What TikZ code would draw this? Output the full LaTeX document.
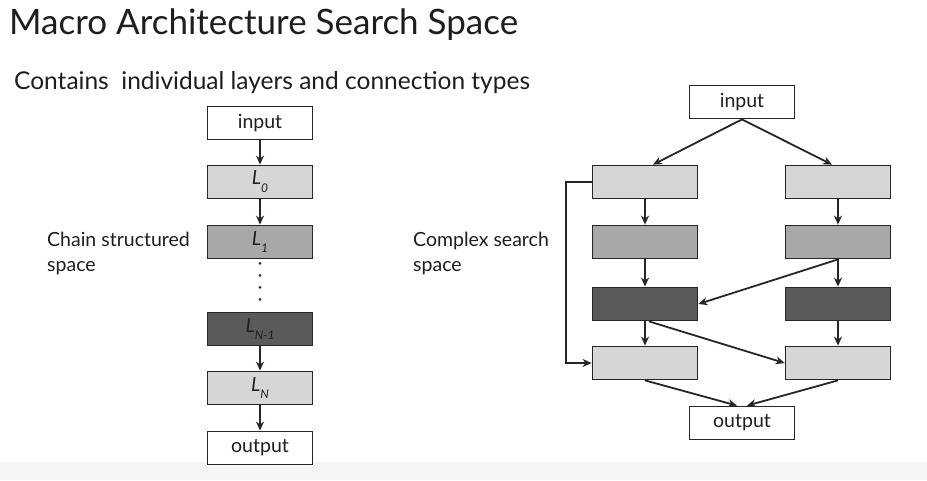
\documentclass[tikz,border=0pt]{standalone}
\usepackage{fontspec}
\setmainfont{Lato}
\usetikzlibrary{arrows.meta,calc}
\definecolor{lgray}{HTML}{D6D6D6}
\definecolor{mgray}{HTML}{A8A8A8}
\definecolor{dgray}{HTML}{5A5A5A}
\definecolor{edge}{HTML}{262626}
\definecolor{txt}{HTML}{1E1E1E}
\tikzset{
  blk/.style={draw=edge, line width=1.8pt, minimum width=105pt, minimum height=33pt, inner sep=0pt, font=\fontsize{19.5}{22}\selectfont, text=txt},
  wbox/.style={blk, fill=white},
  lbox/.style={blk, fill=lgray},
  mbox/.style={blk, fill=mgray},
  dbox/.style={blk, fill=dgray},
  arr/.style={draw=edge, line width=1.8pt, -{Stealth[length=9pt,width=8pt]}},
  lab/.style={font=\fontsize{19.5}{25}\selectfont, text=txt, align=left, inner sep=0pt, anchor=north west}
}
\newcommand{\lsub}[1]{\itshape L\raisebox{-0.8ex}{\fontsize{12}{12}\selectfont #1}}
\begin{document}
\begin{tikzpicture}[x=1pt,y=-1pt]
\useasboundingbox (0,0) rectangle (927,480);
\fill[white] (0,0) rectangle (927,480);
\fill[black!4] (0,462) rectangle (927,480);
% titles
\node[anchor=base west, inner sep=0pt, font=\fontsize{35}{40}\selectfont, text=txt] (title) at (9,34) {Macro Architecture Search Space};
\node[anchor=base west, inner sep=0pt, font=\fontsize{24.5}{28}\selectfont, text=txt] (sub) at (14,89) {Contains\ \ individual layers and connection types};
% left chain
\node[wbox] (in1) at (260,123) {input};
\node[lbox] (l0) at (260,182) {\lsub{0}};
\node[mbox] (l1) at (260,242) {\lsub{1}};
\node[dbox] (ln1) at (260,329) {\lsub{N-1}};
\node[lbox] (ln) at (260,388) {\lsub{N}};
\node[wbox] (out1) at (260,448) {output};
\draw[arr] (in1) -- (l0);
\draw[arr] (l0) -- (l1);
\draw[edge, line width=3pt, line cap=round, dash pattern=on 0pt off 12pt] ($(l1.south)+(0,4)$) -- ($(ln1.north)+(0,-1)$);
\draw[arr] (ln1) -- (ln);
\draw[arr] (ln) -- (out1);
\node[lab] (chainlab) at (47,232) {Chain structured\\space};
% right complex
\node[lab] (cplxlab) at (413,232) {Complex search\\space};
\node[wbox] (in2) at (742,102) {input};
\node[lbox] (a1) at (645,182) {};
\node[lbox] (b1) at (838,182) {};
\node[mbox] (a2) at (645,242) {};
\node[mbox] (b2) at (838,242) {};
\node[dbox] (a3) at (645,304) {};
\node[dbox] (b3) at (838,304) {};
\node[lbox] (a4) at (645,363) {};
\node[lbox] (b4) at (838,363) {};
\node[wbox] (out2) at (742,423) {output};
\draw[arr] (in2.south) -- ($(a1.north)+(8,0)$);
\draw[arr] (in2.south) -- ($(b1.north)+(-6,0)$);
\draw[arr] (a1) -- (a2);
\draw[arr] (b1) -- (b2);
\draw[arr] (a2) -- (a3);
\draw[arr] (b2) -- (b3);
\draw[arr] (a3) -- (a4);
\draw[arr] (b3) -- (b4);
\draw[arr] (b2.south) -- (a3.east);
\draw[arr] ($(a3.south)+(4,0)$) -- (b4.west);
\draw[arr] (a1.west) -- ++(-26,0) |- (a4.west);
\draw[arr] (a4.south) -- ($(out2.north)+(-5,0)$);
\draw[arr] (b4.south) -- ($(out2.north)+(5,0)$);
\end{tikzpicture}
\end{document}
